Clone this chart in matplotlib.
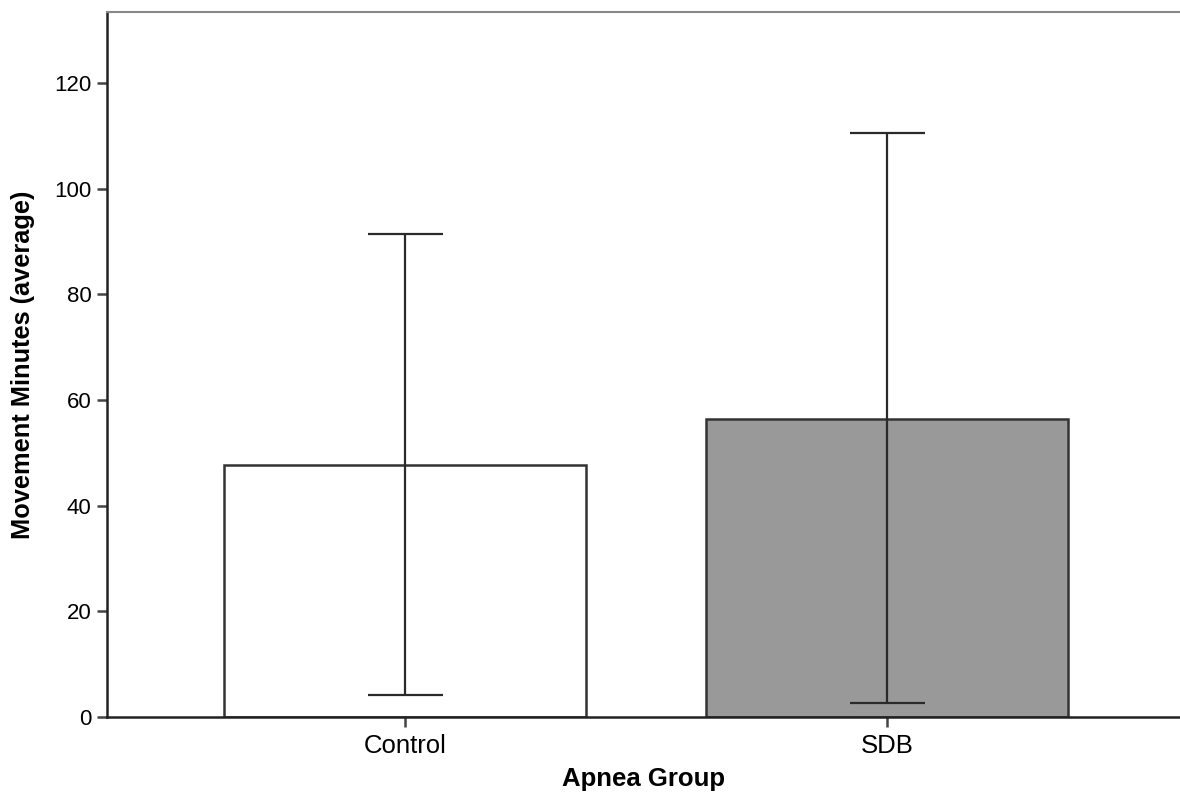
import matplotlib
matplotlib.use("Agg")
import matplotlib.pyplot as plt
import numpy as np

plt.rcParams['font.family'] = ['Liberation Sans', 'DejaVu Sans']

categories = ["Control", "SDB"]
means = [47.7, 56.4]
err_low = [4.2, 2.6]
err_high = [91.4, 110.5]
bar_colors = ["#ffffff", "#999999"]
y_ticks = [0, 20, 40, 60, 80, 100, 120]

fig = plt.figure(figsize=(11.8, 7.93), dpi=100)
ax = fig.add_axes([107/1180, 1 - 717/793, 1 - 107/1180, (717 - 12)/793])

x = np.arange(len(categories))
ax.bar(x, means, width=0.75, color=bar_colors, edgecolor="#333333", linewidth=1.8, zorder=2)
lower = np.array(means) - np.array(err_low)
upper = np.array(err_high) - np.array(means)
ax.errorbar(x, means, yerr=[lower, upper], fmt="none", ecolor="#2a2a2a",
            elinewidth=1.6, capsize=27, capthick=1.6, zorder=3)

ax.set_xlim(-0.618, 1.608)
ax.set_ylim(0, 133.4)
ax.set_xticks(x)
ax.set_xticklabels(categories)
ax.set_yticks(y_ticks)
ax.tick_params(axis="both", direction="out", length=7, width=1.8, color="#444444",
               labelsize=16, pad=4)
ax.tick_params(axis="x", labelsize=18.5, pad=5)

for s in ["left", "bottom"]:
    ax.spines[s].set_linewidth(1.8)
    ax.spines[s].set_color("#222222")
ax.spines["top"].set_linewidth(1.5)
ax.spines["top"].set_color("#888888")
ax.spines["right"].set_visible(False)

ax.set_ylabel("Movement Minutes (average)", fontsize=18.3, fontweight="bold", labelpad=14)
ax.set_xlabel("Apnea Group", fontsize=18.5, fontweight="bold")
ax.xaxis.set_label_coords(0.5, -0.098)
ax.xaxis.label.set_verticalalignment("baseline")

fig.savefig("out.png", dpi=100)
